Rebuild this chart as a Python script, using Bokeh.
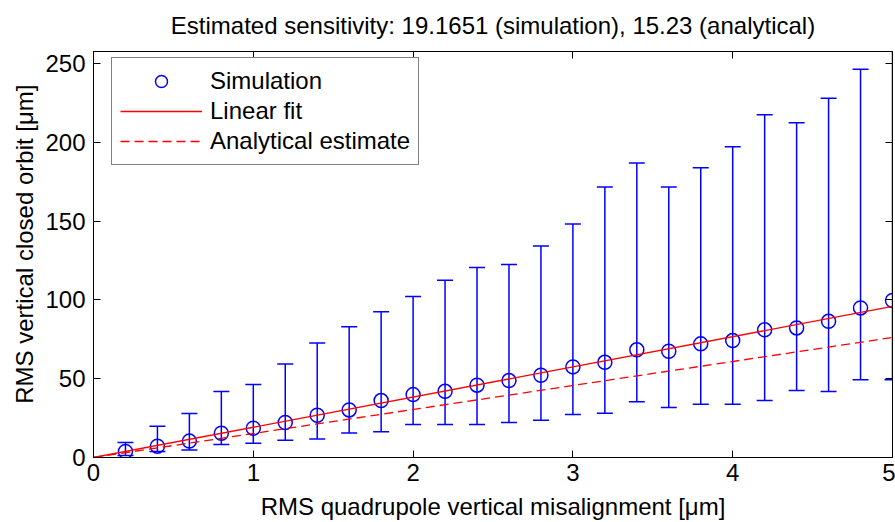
from bokeh.plotting import figure
from bokeh.models import Range1d, LinearAxis, FixedTicker, Legend, LegendItem, Title, ColumnDataSource
from bokeh.embed import file_html
from bokeh.resources import INLINE

# ---- data ----
misalign = [0.2, 0.4, 0.6, 0.8, 1.0, 1.2, 1.4, 1.6, 1.8, 2.0, 2.2, 2.4, 2.6,
            2.8, 3.0, 3.2, 3.4, 3.6, 3.8, 4.0, 4.2, 4.4, 4.6, 4.8, 5.0]
orbit_mean = [3.8, 7.2, 10.4, 15.4, 18.6, 22.2, 26.8, 30.2, 36.1, 39.9, 42.0, 45.9, 48.8,
              52.2, 57.5, 60.4, 68.3, 67.4, 72.1, 74.2, 81.0, 82.2, 86.4, 94.9, 99.6]
orbit_upper = [9.5, 19.9, 27.9, 41.9, 46.3, 59.4, 72.7, 82.9, 92.4, 102.1, 112.4, 120.5, 122.4,
               134.2, 148.2, 171.6, 186.9, 171.6, 183.9, 197.2, 217.5, 212.4, 227.9, 246.3, 268.0]
orbit_lower = [1.3, 3.8, 4.7, 8.2, 9.1, 11.0, 11.8, 15.6, 16.3, 20.9, 20.9, 20.9, 22.2,
               23.7, 27.3, 28.1, 35.3, 31.7, 33.8, 33.8, 36.1, 42.5, 41.9, 49.3, 49.3]
slope_sim = 19.1651
slope_analytical = 15.23
fit_x = [0.0, 5.0]
x_ticks = [0, 1, 2, 3, 4, 5]
y_ticks = [0, 50, 100, 150, 200, 250]

FONT = "Liberation Sans"
FS = "24px"
BLUE = "#0000ff"
RED = "#ff0000"

src = ColumnDataSource(dict(x=misalign, y=orbit_mean, up=orbit_upper, lo=orbit_lower))
fit_src = ColumnDataSource(dict(x=fit_x,
                                sim=[slope_sim * v for v in fit_x],
                                ana=[slope_analytical * v for v in fit_x]))

p = figure(width=895, height=522, output_backend="svg", toolbar_location=None,
           x_range=Range1d(0, 5), y_range=Range1d(0, 257.6),
           min_border_left=93, min_border_right=3, min_border_top=51, min_border_bottom=65,
           background_fill_color="white", border_fill_color="white")

p.title.text = "Estimated sensitivity: %s (simulation), %s (analytical)" % (slope_sim, slope_analytical)
p.title.text_font = FONT
p.title.text_font_size = FS
p.title.text_font_style = "normal"
p.title.align = "center"
p.title.vertical_align = "top"
p.title.text_color = "black"
p.title.text_line_height = 1.0
p.title.standoff = 21

p.xgrid.visible = False
p.ygrid.visible = False
p.outline_line_color = "black"
p.outline_line_width = 1

for ax in (p.xaxis[0], p.yaxis[0]):
    ax.major_label_text_font = FONT
    ax.major_label_text_font_size = FS
    ax.major_label_text_color = "black"
    ax.major_label_text_line_height = 1.0
    ax.major_tick_in = 7
    ax.major_tick_out = 0
    ax.minor_tick_in = 0
    ax.minor_tick_out = 0
    ax.axis_line_color = "black"
    ax.major_tick_line_color = "black"
    ax.axis_label_text_font = FONT
    ax.axis_label_text_font_size = FS
    ax.axis_label_text_font_style = "normal"
    ax.axis_label_text_color = "black"
p.xaxis.ticker = FixedTicker(ticks=x_ticks)
p.yaxis.ticker = FixedTicker(ticks=y_ticks)
p.xaxis.axis_label = "RMS quadrupole vertical misalignment [μm]"
p.xaxis.major_label_standoff = 6
p.xaxis.axis_label_standoff = 9
p.yaxis.major_label_standoff = 8

p.add_layout(Title(text="RMS vertical closed orbit [μm]", align="right", offset=33,
                   text_font=FONT, text_font_size=FS, text_font_style="normal",
                   text_color="black"), "left")

for side, ticks in (("above", x_ticks), ("right", y_ticks)):
    ax = LinearAxis(ticker=FixedTicker(ticks=ticks),
                    major_label_overrides={t: "" for t in ticks},
                    major_label_standoff=0, axis_label_standoff=0,
                    major_tick_in=7, major_tick_out=0,
                    minor_tick_in=0, minor_tick_out=0, axis_line_color="black",
                    major_tick_line_color="black")
    p.add_layout(ax, side)

# error bars
p.segment(x0="x", y0="lo", x1="x", y1="up", source=src, line_color=BLUE, line_width=1.5)
p.scatter(x="x", y="up", source=src, marker="dash", size=16, line_color=BLUE, line_width=1.5)
p.scatter(x="x", y="lo", source=src, marker="dash", size=16, line_color=BLUE, line_width=1.5)

circ = p.scatter(x="x", y="y", source=src, marker="circle", size=14, fill_color=None,
                 line_color=BLUE, line_width=1.5)
fit = p.line(x="x", y="sim", source=fit_src, line_color=RED, line_width=1.3)
ana = p.line(x="x", y="ana", source=fit_src, line_color=RED, line_width=1.3, line_dash="9 5")

legend = Legend(items=[LegendItem(label="Simulation", renderers=[circ]),
                       LegendItem(label="Linear fit", renderers=[fit]),
                       LegendItem(label="Analytical estimate", renderers=[ana])],
                location=(18, 292), label_text_font=FONT, label_text_font_size=FS,
                label_text_color="black",
                label_height=30, glyph_height=30, glyph_width=82, label_standoff=8,
                padding=8, spacing=0, margin=0, border_line_color="black",
                border_line_width=1, background_fill_color="white", background_fill_alpha=1)
p.add_layout(legend)

open("out.html", "w").write(file_html(p, INLINE))
